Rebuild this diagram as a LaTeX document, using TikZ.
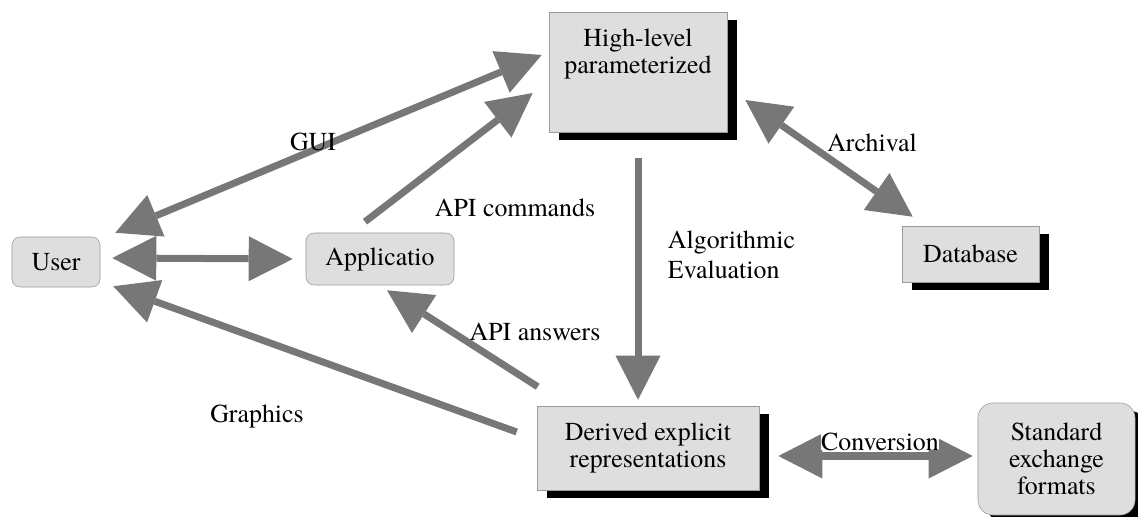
\documentclass[tikz,border=0pt]{standalone}
\usepackage{fontspec}
\setmainfont{texgyretermes-regular.otf}
\usetikzlibrary{positioning}
\usetikzlibrary{shadows}
\usetikzlibrary{arrows.meta}
\definecolor{boxgray}{HTML}{DEDEDE}
\definecolor{edgegray}{HTML}{9A9A9A}
\definecolor{arrowgray}{HTML}{777777}

\begin{document}
\begin{tikzpicture}[x=0.025cm, y=-0.025cm,
	every node/.style={font=\rmfamily\fontsize{18.4}{19}\selectfont},
	box/.style={draw=edgegray, fill=boxgray, align=center, inner sep=0pt},
	roundbox/.style={box, rounded corners=0.2cm},
	shadowbox/.style={box, drop shadow={shadow xshift=0.26cm, shadow yshift=-0.2cm, fill=black, opacity=1}},
	flow/.style={draw=arrowgray, line width=0.175cm, >={Triangle[length=1.1cm, width=1.125cm, line width=0pt]}}]
				\useasboundingbox (0,0) rectangle (1138,517);
				
				\node[roundbox, minimum width=2.2cm, minimum height=1.25cm] (user) at (56,262) {User};
				\node[roundbox, minimum width=3.7cm, minimum height=1.3cm] (app) at (380,259) {Applicatio};
				\node[shadowbox, minimum width=4.45cm, minimum height=3cm] (high) at (638,72) {High-level\\parameterized\\[0.37cm]\mbox{}};
				\node[shadowbox, minimum width=3.425cm, minimum height=1.4cm] (db) at (970.5,254) {Database};
				\node[shadowbox, minimum width=5.55cm, minimum height=2.1cm] (derived) at (648,448) {Derived explicit\\representations};
				\node[shadowbox, rounded corners=0.375cm, minimum width=3.925cm, minimum height=2.8cm] (std) at (1056.5,459) {Standard\\exchange\\formats};
				
				\draw[flow, <->] ([shift={(15,-4)}]user.north east) -- ([shift={(-7,-17)}]high.west);
				\draw[flow, ->] ([shift={(-15,-11)}]app.north) -- ([shift={(-16,21)}]high.west);
				\draw[flow, <->] ([shift={(12,-4)}]user.east) -- ([shift={(-13,0)}]app.west);
				\draw[flow, ->] ([shift={(1,-19)}]derived.north west) -- ([shift={(7,5)}]app.south);
				\draw[flow, ->] ([shift={(-20,-16)}]derived.west) -- ([shift={(13,-1)}]user.south east);
				\draw[flow, ->] ([shift={(0,26)}]high.south) -- ([shift={(-10,-6)}]derived.north);
				\draw[flow, <->] ([shift={(18,28)}]high.east) -- ([shift={(11,-9)}]db.north west);
				\draw[flow, <->] ([shift={(19,8)}]derived.east) -- ([shift={(-5,-3)}]std.west);
				
				\node (gui) at (313,142) {GUI};
				\node (cmds) at (515,208) {API commands};
				\node[anchor=west, align=left] (algo) at (663,255) {Algorithmic\\[0.08cm]Evaluation};
				\node (archival) at (872,143) {Archival};
				\node (answers) at (535,332) {API answers};
				\node (graphics) at (257,416) {Graphics};
				\node[fill=white, inner sep=0pt, anchor=base] (conv) at (880,450) {Conversion};
			\end{tikzpicture}
\end{document}
